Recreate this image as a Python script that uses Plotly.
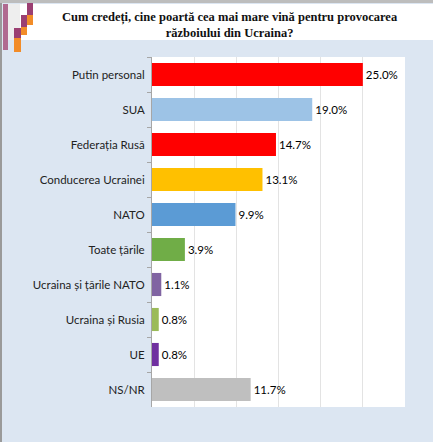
import plotly.graph_objects as go

categories = ["Putin personal", "SUA", "Federația Rusă", "Conducerea Ucrainei", "NATO",
              "Toate țările", "Ucraina și țările NATO", "Ucraina și Rusia", "UE", "NS/NR"]
values = [25.0, 19.0, 14.7, 13.1, 9.9, 3.9, 1.1, 0.8, 0.8, 11.7]
colors = ["#FF0000", "#9DC3E6", "#FF0000", "#FFC000", "#5B9BD5",
          "#70AD47", "#8064A2", "#9BBB59", "#7030A0", "#BFBFBF"]
title_text = "Cum credeți, cine poartă cea mai mare vină pentru provocarea<br>războiului din Ucraina?"

W, H = 433, 442
L, R, T, B = 152, 28, 57, 35
pw, ph = W - L - R, H - T - B

def px(x):
    return (x - L) / pw

def py(y):
    return (H - B - y) / ph

fig = go.Figure(go.Bar(
    x=values, y=categories, orientation="h",
    marker=dict(color=colors, line=dict(width=0)),
    texttemplate="%{x:.1f}%", textposition="outside",
    textfont=dict(family="Lato", size=11.5, color="#000000"),
    cliponaxis=False, width=0.66, hoverinfo="skip",
))

shapes = []
# gray frame lines
shapes.append(dict(type="rect", xref="paper", yref="paper", x0=px(0), x1=px(2), y0=py(H), y1=py(0),
                   fillcolor="#9A9A9A", line=dict(width=0), layer="below"))
shapes.append(dict(type="rect", xref="paper", yref="paper", x0=px(0), x1=px(W), y0=py(3), y1=py(0),
                   fillcolor="#BDBDBD", line=dict(width=0), layer="below"))
# title band
shapes.append(dict(type="rect", xref="paper", yref="paper", x0=px(20), x1=px(W), y0=py(40), y1=py(4),
                   fillcolor="#FFFFFF", line=dict(width=0), layer="below"))
shapes.append(dict(type="rect", xref="paper", yref="paper", x0=px(8), x1=px(20), y0=py(40), y1=py(4),
                   fillcolor="#EEEEEE", line=dict(width=0), layer="below"))
# decorative squares
deco = [
    (3, 8, 4, 50, "#B06A90"),
    (27, 33, 3, 15, "#9B3F72"),
    (27, 33, 15, 25, "#F28C28"),
    (21, 27, 15, 27, "#9B3F72"),
    (21, 27, 27, 35, "#F28C28"),
    (14, 21, 28, 38, "#9B3F72"),
    (14, 21, 38, 52, "#F28C28"),
]
for x0, x1, y0, y1, c in deco:
    shapes.append(dict(type="rect", xref="paper", yref="paper", x0=px(x0), x1=px(x1), y0=py(y1), y1=py(y0),
                       fillcolor=c, line=dict(width=0), layer="below"))

fig.update_layout(
    width=W, height=H,
    margin=dict(l=L, r=R, t=T, b=B, pad=0),
    paper_bgcolor="#DCE6F2",
    plot_bgcolor="#FFFFFF",
    showlegend=False,
    bargap=0.34,
    shapes=shapes,
    annotations=[dict(text="<b>" + title_text + "</b>", xref="paper", yref="paper",
                      x=px(230), y=py(25), xanchor="center", yanchor="middle", showarrow=False,
                      font=dict(family="Liberation Serif", size=12.5, color="#111111"),
                      align="center")],
    xaxis=dict(range=[0, 30], dtick=5, showticklabels=False, showgrid=True,
               gridcolor="#E3E3E3", gridwidth=1, zeroline=False, showline=False, fixedrange=True),
    yaxis=dict(autorange="reversed", showline=True, linecolor="#A6A6A6", linewidth=1,
               ticks="outside", tickson="boundaries", ticklen=4, tickcolor="#A6A6A6",
               tickfont=dict(family="Lato", size=11.5, color="#222222"), ticklabelstandoff=4,
               fixedrange=True),
)

fig.write_html("out.html", config={"displayModeBar": False, "staticPlot": True},
               post_script="document.body.style.margin='0';document.body.style.overflow='hidden';")
